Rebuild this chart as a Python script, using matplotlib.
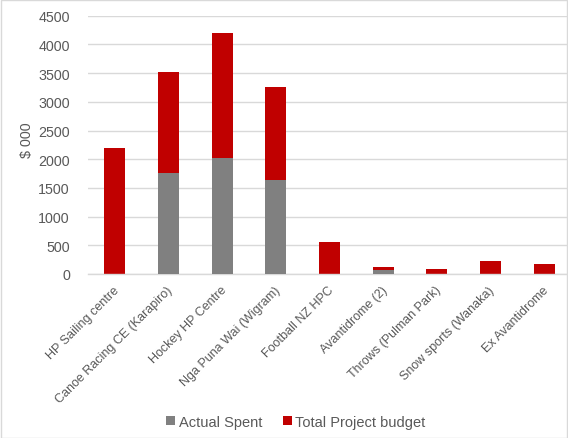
import matplotlib
matplotlib.use("Agg")
import matplotlib.pyplot as plt
from matplotlib.patches import Rectangle
from matplotlib.transforms import ScaledTranslation
import numpy as np

categories = ["HP Sailing centre", "Canoe Racing CE (Karapiro)", "Hockey HP Centre",
              "Nga Puna Wai (Wigram)", "Football NZ HPC", "Avantidrome (2)",
              "Throws (Pulman Park)", "Snow sports (Wanaka)", "Ex Avantidrome"]
actual_spent = [0, 1765, 2020, 1630, 0, 70, 0, 0, 0]
total_budget = [2200, 3520, 4190, 3260, 550, 130, 90, 230, 170]
yticks = [0, 500, 1000, 1500, 2000, 2500, 3000, 3500, 4000, 4500]

plt.rcParams['font.family'] = ['Liberation Sans', 'DejaVu Sans']
text_color = "#595959"
grid_color = "#d9d9d9"
red = "#C00000"
gray = "#808080"

fig = plt.figure(figsize=(5.68, 4.39), dpi=100)
ax = fig.add_axes([88/568, 1-275/439, (571-88)/568, (275-16.7)/439])

x = np.arange(len(categories))
w = 0.39
ax.bar(x, total_budget, width=w, color=red, label="Total Project budget", zorder=2)
ax.bar(x, actual_spent, width=w, color=gray, label="Actual Spent", zorder=3)

ax.set_xlim(-0.5, len(categories) - 0.5)
ax.set_ylim(0, 4500)
ax.set_yticks(yticks)
ax.set_yticklabels([str(v) for v in yticks], fontsize=10.3, color=text_color)
ax.yaxis.grid(True, color=grid_color, linewidth=1, zorder=0)
ax.set_axisbelow(True)
ax.tick_params(axis='both', length=0)
ax.tick_params(axis='y', pad=13)
ax.set_xticks(x)
ax.set_xticklabels(categories, rotation=45, ha='right', rotation_mode='anchor',
                   fontsize=9, color=text_color)
ax.tick_params(axis='x', pad=7)
offset = ScaledTranslation(-2/100, 0, fig.dpi_scale_trans)
for lbl in ax.get_xticklabels():
    lbl.set_transform(lbl.get_transform() + offset)
for s in ['top', 'right', 'left']:
    ax.spines[s].set_visible(False)
ax.spines['bottom'].set_color(grid_color)
ax.spines['bottom'].set_linewidth(1)
ax.set_ylabel("$ 000", fontsize=10.3, color=text_color)
ax.yaxis.set_label_coords(-54/483, 0.52)

handles, labels = ax.get_legend_handles_labels()
order = [1, 0]
fig.legend([handles[i] for i in order], [labels[i] for i in order],
           loc='center', bbox_to_anchor=(296/568, 1-423/439), ncol=2, frameon=False,
           fontsize=10.5, labelcolor=text_color, handlelength=0.58, handleheight=0.58,
           handletextpad=0.27, columnspacing=1.44, borderpad=0, borderaxespad=0)

fig.patches.append(Rectangle((0.5/568, 0.5/439), 1-1.5/568, 1-1.5/439,
                             transform=fig.transFigure, fill=False,
                             edgecolor=grid_color, linewidth=1))

fig.savefig("out.png", dpi=100)
